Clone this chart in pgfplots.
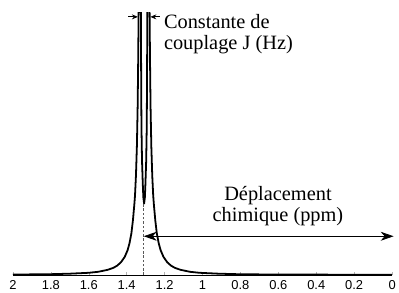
\documentclass[border=0pt]{standalone}
\usepackage{fontspec}
\setmainfont{Liberation Serif}
\setsansfont{Liberation Sans}
\usepackage{pgfplots}
\pgfplotsset{compat=1.18}
\usetikzlibrary{arrows.meta}
\begin{document}
\begin{tikzpicture}
\begin{axis}[
  scale only axis, width=382pt, height=264pt,
  xmin=0, xmax=2, ymin=0, ymax=264, x dir=reverse,
  axis x line=bottom, axis y line=none,
  axis line style={line width=0.9pt,-},
  xtick={0,0.2,0.4,0.6,0.8,1,1.2,1.4,1.6,1.8,2},
  tick align=inside, major tick length=3pt,
  tick style={gray!60, thin},
  tick label style={font=\sffamily\fontsize{13}{13}\selectfont},
  x tick label style={font=\sffamily\fontsize{13}{13}\selectfont, yshift=-2pt},
  /pgf/number format/assume math mode=true,
  clip mode=individual,
]
\addplot[line width=1.8pt, black, line join=round] coordinates {
(2.0,0.5) (1.9,0.6) (1.8,0.8) (1.7,1.3) (1.6,2.2) (1.55,3.2) (1.5,5.2) (1.47,7.2)
(1.45,9.4) (1.43,12.8) (1.41,18.3) (1.395,25) (1.385,32) (1.375,42) (1.367,55)
(1.360,70) (1.356,80) (1.351,100) (1.346,130) (1.342,170) (1.339,220) (1.337,264)
(1.3365,300) (1.334,400) (1.331,450) (1.328,400) (1.3255,300) (1.325,264)
(1.3235,200) (1.322,150) (1.319,115) (1.315,92) (1.312,78) (1.308,72)
(1.304,78) (1.301,92) (1.297,115) (1.294,150) (1.2925,200) (1.291,264)
(1.2905,300) (1.288,400) (1.285,450) (1.282,400) (1.2795,300) (1.279,264)
(1.277,220) (1.274,170) (1.270,130) (1.265,100) (1.260,80) (1.256,70)
(1.249,55) (1.241,42) (1.231,32) (1.221,25) (1.206,18.3) (1.186,12.8)
(1.166,9.4) (1.146,7.2) (1.116,5.2) (1.066,3.2) (1.016,2.2) (0.916,1.3)
(0.816,0.8) (0.716,0.6) (0.616,0.5) (0.4,0.35) (0.2,0.3) (0.0,0.25)
};
\addplot[gray!70!black, line width=0.7pt, dash pattern=on 2.5pt off 1.8pt] coordinates {(1.310,0) (1.310,72)};
\draw[{Stealth[length=13pt,width=9pt,inset=4pt]}-{Stealth[length=13pt,width=9pt,inset=4pt]}, line width=0.8pt]
  (axis cs:1.310,39) -- (axis cs:-0.008,39);
\draw[-{Stealth[length=6pt,width=5pt]}, line width=0.8pt] (axis cs:1.392,260) -- (axis cs:1.341,260);
\draw[-{Stealth[length=6pt,width=5pt]}, line width=0.8pt] (axis cs:1.226,260) -- (axis cs:1.275,260);
\node[anchor=base west, inner sep=0, font=\fontsize{20.5}{22}\selectfont] at (axis cs:1.204,248.7) {Constante de};
\node[anchor=base west, inner sep=0, font=\fontsize{20.5}{22}\selectfont] at (axis cs:1.204,227) {couplage J (Hz)};
\node[anchor=base, inner sep=0, font=\fontsize{20.5}{22}\selectfont] at (axis cs:0.602,75.3) {Déplacement};
\node[anchor=base, inner sep=0, font=\fontsize{20.5}{22}\selectfont] at (axis cs:0.602,54.3) {chimique (ppm)};
\end{axis}
\path ([xshift=-13pt,yshift=-18pt]current axis.south west) rectangle ([xshift=4pt,yshift=13pt]current axis.north east);
\end{tikzpicture}
\end{document}
